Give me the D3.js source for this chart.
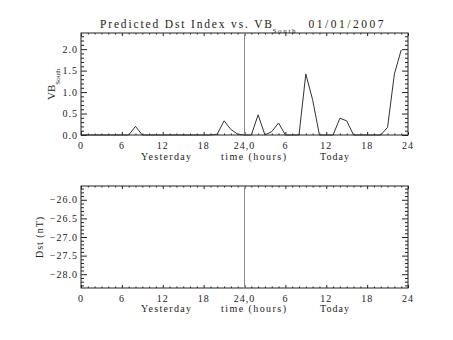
<!DOCTYPE html>
<html>
<head>
<meta charset="utf-8">
<script src="https://cdn.jsdelivr.net/npm/d3@7"></script>
<style>
  html, body { margin: 0; padding: 0; background: #fff; }
  svg { display: block; font-family: "Liberation Serif", "DejaVu Serif", serif; }
</style>
</head>
<body>
<script>
// Hourly samples: 0-24 = yesterday, 24-48 = today
const vbHours = [0, 1, 2, 3, 4, 5, 6, 7, 8, 9, 10, 11, 12, 13, 14, 15, 16, 17, 18, 19, 20, 21, 22, 23,
                 24, 25, 26, 27, 28, 29, 30, 31, 32, 33, 34, 35, 36, 37, 38, 39, 40, 41, 42, 43, 44, 45, 46, 47];
const vbSouth = [0, 0, 0, 0, 0, 0, 0, 0, 0.2, 0, 0, 0, 0, 0, 0, 0, 0, 0, 0, 0, 0.02, 0.33, 0.13, 0.02,
                 0, 0, 0.47, 0, 0.08, 0.28, 0, 0, 0, 1.42, 0.82, 0, 0, 0, 0.39, 0.33, 0, 0, 0, 0, 0, 0.18, 1.42, 1.98];

// Predicted Dst (no samples available)
const dstHours = [];
const dstValues = [];

const xTickHours = [0, 6, 12, 18, 24, 30, 36, 42, 48];
const xTickLabels = ["0", "6", "12", "18", "24,0", "6", "12", "18", "24"];
const vbTicks = [0, 0.5, 1, 1.5, 2];
const vbTickLabels = ["0.0", "0.5", "1.0", "1.5", "2.0"];
const dstTicks = [-26, -26.5, -27, -27.5, -28];
const dstTickLabels = ["\u221226.0", "\u221226.5", "\u221227.0", "\u221227.5", "\u221228.0"];

const W = 453, H = 340;
const svg = d3.select("body").append("svg").attr("width", W).attr("height", H);

const x = d3.scaleLinear().domain([0, 48]).range([81, 408]);
const ink = "#222";

function panel(cfg) {
  const y = d3.scaleLinear().domain(cfg.domain).range([cfg.bottom, cfg.top]);
  const g = svg.append("g");

  // minor + major ticks on all four sides, pointing inward
  const minorX = d3.range(0, 49).filter(h => h % 6 !== 0);
  const minorY = d3.range(Math.ceil(cfg.domain[0] * 10), Math.floor(cfg.domain[1] * 10) + 1)
    .map(v => v / 10).filter(v => Math.abs(v * 2 - Math.round(v * 2)) > 1e-6);

  const axes = [
    [d3.axisBottom(x).tickValues(minorX).tickSize(-1.5), `translate(0,${cfg.bottom})`],
    [d3.axisBottom(x).tickValues(xTickHours).tickSize(-3), `translate(0,${cfg.bottom})`],
    [d3.axisTop(x).tickValues(minorX).tickSize(-1.5), `translate(0,${cfg.top})`],
    [d3.axisTop(x).tickValues(xTickHours).tickSize(-3), `translate(0,${cfg.top})`],
    [d3.axisLeft(y).tickValues(minorY).tickSize(-3), `translate(81,0)`],
    [d3.axisLeft(y).tickValues(cfg.ticks).tickSize(-6), `translate(81,0)`],
    [d3.axisRight(y).tickValues(minorY).tickSize(-3), `translate(408,0)`],
    [d3.axisRight(y).tickValues(cfg.ticks).tickSize(-6), `translate(408,0)`]
  ];
  axes.forEach(([ax, tr]) => {
    const a = g.append("g").attr("transform", tr).call(ax.tickFormat(""));
    a.select(".domain").remove();
    a.selectAll("line").attr("stroke", ink);
  });

  // frame
  g.append("rect")
    .attr("x", x(0)).attr("y", cfg.top)
    .attr("width", x(48) - x(0)).attr("height", cfg.bottom - cfg.top)
    .attr("fill", "none").attr("stroke", ink).attr("stroke-width", 1);

  // day boundary
  g.append("line")
    .attr("x1", x(24)).attr("x2", x(24))
    .attr("y1", cfg.top).attr("y2", cfg.bottom)
    .attr("stroke", "#888").attr("stroke-width", 1);

  // x tick labels
  g.selectAll("text.xt").data(xTickHours).join("text")
    .attr("class", "xt")
    .attr("x", d => x(d)).attr("y", cfg.xLabelY)
    .attr("text-anchor", "middle")
    .attr("font-size", 10).attr("letter-spacing", 1).attr("fill", ink)
    .text((d, i) => xTickLabels[i]);

  // y tick labels
  g.selectAll("text.yt").data(cfg.ticks).join("text")
    .attr("class", "yt")
    .attr("x", 78).attr("y", d => y(d))
    .attr("dy", "0.35em")
    .attr("text-anchor", "end")
    .attr("font-size", 10).attr("letter-spacing", 1).attr("fill", ink)
    .text((d, i) => cfg.tickLabels[i]);

  // x titles
  const xt = [["Yesterday", 166, 50], ["time (hours)", 253.5, 65], ["Today", 334.5, 29]];
  xt.forEach(([t, cx, len]) => {
    g.append("text")
      .attr("x", cx - len / 2).attr("y", cfg.xTitleY)
      .attr("textLength", len).attr("lengthAdjust", "spacing")
      .attr("font-size", 10).attr("fill", ink)
      .text(t);
  });

  // series
  if (cfg.xs.length) {
    g.append("path")
      .datum(cfg.xs.map((h, i) => [h, cfg.vs[i]]))
      .attr("fill", "none").attr("stroke", "#333").attr("stroke-width", 1)
      .attr("d", d3.line().x(d => x(d[0])).y(d => y(d[1])));
  }
  return g;
}

const vbPanel = panel({
  top: 33, bottom: 135, domain: [0, 2.376],
  ticks: vbTicks, tickLabels: vbTickLabels,
  xLabelY: 149, xTitleY: 159.5,
  xs: vbHours, vs: vbSouth
});

const dstPanel = panel({
  top: 186, bottom: 288, domain: [-28.37, -25.63],
  ticks: dstTicks, tickLabels: dstTickLabels,
  xLabelY: 301.5, xTitleY: 311.5,
  xs: dstHours, vs: dstValues
});

// title
svg.append("text")
  .attr("x", 100).attr("y", 27.5)
  .attr("textLength", 172).attr("lengthAdjust", "spacing")
  .attr("font-size", 11.5).attr("fill", ink)
  .text("Predicted Dst Index vs. VB");
svg.append("text")
  .attr("x", 272.5).attr("y", 33)
  .attr("textLength", 23).attr("lengthAdjust", "spacing")
  .attr("font-size", 7).attr("fill", ink)
  .text("South");
svg.append("text")
  .attr("x", 308.5).attr("y", 27.5)
  .attr("textLength", 75).attr("lengthAdjust", "spacing")
  .attr("font-size", 11.5).attr("fill", ink)
  .text("01/01/2007");

// y titles
const vbLab = svg.append("text")
  .attr("transform", "translate(55,100) rotate(-90)")
  .attr("font-size", 11).attr("fill", ink);
vbLab.append("tspan").text("VB");
vbLab.append("tspan").attr("dy", 4.5).attr("font-size", 7).text("South");

svg.append("text")
  .attr("transform", "translate(43,237) rotate(-90)")
  .attr("text-anchor", "middle")
  .attr("font-size", 10).attr("letter-spacing", 1).attr("fill", ink)
  .text("Dst (nT)");
</script>
</body>
</html>
